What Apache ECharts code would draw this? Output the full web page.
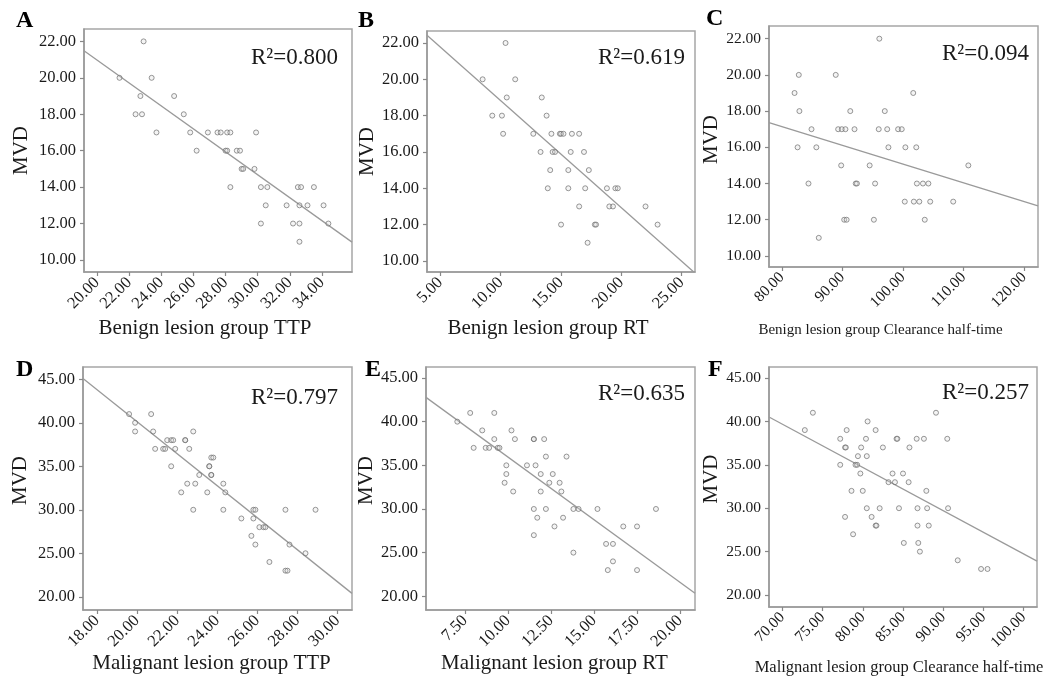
<!DOCTYPE html>
<html><head><meta charset="utf-8">
<script src="https://cdn.jsdelivr.net/npm/echarts@6/dist/echarts.min.js"></script>
<style>html,body{margin:0;padding:0;background:#fff}#c{width:1050px;height:679px}</style>
</head><body><div id="c"></div>
<script>
// ---------- data ----------
// Panel A: Benign TTP vs MVD
const aX = [22.9,21.4,23.4,22.7,24.8,22.4,22.8,25.4,23.7,25.8,26.9,27.5,27.7,28.1,28.3,29.9,26.2,28.0,28.1,28.7,28.9,29.0,29.1,29.8,28.3,30.2,30.6,32.5,32.7,33.5,30.5,31.8,32.6,33.1,34.1,30.2,32.2,32.6,34.4,32.6];
const aY = [22,20,20,19,19,18,18,18,17,17,17,17,17,17,17,17,16,16,16,16,16,15,15,15,14,14,14,14,14,14,13,13,13,13,13,12,12,12,12,11];
const aFitX = [19.19, 35.87];
const aFitY = [21.49, 10.98];
// Panel B: Benign RT vs MVD
const bX = [10.4,8.5,11.2,10.5,13.4,9.3,10.1,13.8,10.2,12.7,14.2,14.9,15.0,15.2,15.9,16.5,13.3,14.3,14.5,15.8,16.9,14.1,15.6,17.3,13.9,15.6,17.0,18.8,19.5,19.7,16.5,19.0,19.3,22.0,15.0,17.8,17.9,23.0,17.2];
const bY = [22,20,20,19,19,18,18,18,17,17,17,17,17,17,17,17,16,16,16,16,16,15,15,15,14,14,14,14,14,14,13,13,13,13,12,12,12,12,11];
const bFitX = [3.89, 26.0];
const bFitY = [22.42, 9.39];
// Panel C: Benign clearance half-time vs MVD
const cX = [96.1,82.8,88.9,82.1,101.7,82.9,91.3,97.0,84.9,89.3,89.9,90.5,92.0,96.0,97.4,99.2,99.8,82.6,85.7,97.6,100.4,102.2,89.8,94.5,110.8,84.4,92.2,92.4,95.4,102.3,103.3,104.2,100.3,101.8,102.7,104.5,108.3,90.3,90.7,95.2,103.6,86.1];
const cY = [22,20,20,19,19,18,18,18,17,17,17,17,17,17,17,17,17,16,16,16,16,16,15,15,15,14,14,14,14,14,14,14,13,13,13,13,13,12,12,12,12,11];
const cFitX = [77.88, 122.3];
const cFitY = [17.36, 12.76];
// Panel D: Malignant TTP vs MVD
const dX = [19.6,20.7,19.9,19.9,20.8,22.8,21.5,21.7,21.8,22.4,22.4,20.9,21.3,21.4,21.9,22.6,23.7,23.8,21.7,23.6,23.6,23.1,23.7,23.7,22.5,22.9,24.3,22.2,23.5,24.4,22.8,24.3,25.8,25.9,27.4,28.9,25.2,25.8,26.1,26.3,26.4,25.7,25.9,27.6,28.4,26.6,27.4,27.5];
const dY = [41,41,40,39,39,39,38,38,38,38,38,37,37,37,37,37,36,36,35,35,35,34,34,34,33,33,33,32,32,32,30,30,30,30,30,30,29,29,28,28,28,27,26,26,25,24,23,23];
const dFitX = [17.30, 30.72];
const dFitY = [45.08, 20.39];
// Panel E: Malignant RT vs MVD
const eX = [7.8,9.2,7.05,8.5,10.2,9.2,10.4,11.5,11.5,12.1,8.0,8.7,8.9,9.4,9.5,12.2,13.4,9.9,11.1,11.6,9.9,11.9,12.6,9.8,12.4,13.0,10.3,11.9,13.1,11.5,12.2,13.8,14.1,15.2,18.6,11.7,13.2,12.7,16.7,17.5,11.5,15.7,16.1,13.8,16.1,15.8,17.5];
const eY = [41,41,40,39,39,38,38,38,38,38,37,37,37,37,37,36,36,35,35,35,34,34,34,33,33,33,32,32,32,30,30,30,30,30,30,29,29,28,28,28,27,26,26,25,24,23,23];
const eFitX = [5.23, 20.87];
const eFitY = [42.78, 20.34];
// Panel F: Malignant clearance half-time vs MVD
const fX = [73.8,89.1,80.6,72.8,78.0,81.6,77.2,80.4,84.2,84.3,86.7,87.6,90.5,77.8,77.9,79.8,82.5,85.8,79.4,80.5,77.2,79.1,79.3,79.7,83.7,85.0,83.2,84.0,85.7,78.6,80.0,87.9,80.5,82.1,84.5,86.8,88.0,90.6,77.8,81.1,81.6,81.7,86.8,88.2,78.8,85.1,86.9,87.1,91.8,94.7,95.5];
const fY = [41,41,40,39,39,39,38,38,38,38,38,38,38,37,37,37,37,37,36,36,35,35,35,34,34,34,33,33,33,32,32,32,30,30,30,30,30,30,29,29,28,28,28,28,27,26,26,25,24,23,23];
const fFitX = [68.35, 101.65];
const fFitY = [40.51, 23.91];

// tick labels
const aXTicks = [20,22,24,26,28,30,32,34];
const bXTicks = [5,10,15,20,25];
const cXTicks = [80,90,100,110,120];
const dXTicks = [18,20,22,24,26,28,30];
const eXTicks = [7.5,10,12.5,15,17.5,20];
const fXTicks = [70,75,80,85,90,95,100];
const benignYTicks = [10,12,14,16,18,20,22];
const malignantYTicks = [20,25,30,35,40,45];

const letters = ['A','B','C','D','E','F'];
const r2Labels = ['R²=0.800','R²=0.619','R²=0.094','R²=0.797','R²=0.635','R²=0.257'];
const xNames = ['Benign lesion group TTP','Benign lesion group RT','Benign lesion group Clearance half-time',
  'Malignant lesion group TTP','Malignant lesion group RT','Malignant lesion group Clearance half-time'];
const yName = 'MVD';

// ---------- layout ----------
const FONT = 'Liberation Serif';
const TXT = '#1a1a1a';
const panels = [
  {x:aX,y:aY,fx:aFitX,fy:aFitY,xt:aXTicks,yt:benignYTicks,xr:[19.19,35.87],yr:[9.34,22.68],
   g:{left:84,top:29,width:268,height:243}, lf:16.5, nf:21, nGap:46, nPad:26, yGap:52, yPad:0, r2:{left:246,top:41}, lt:{left:11,top:4}},
  {x:bX,y:bY,fx:bFitX,fy:bFitY,xt:bXTicks,yt:benignYTicks,xr:[3.89,26.1],yr:[9.39,22.66],
   g:{left:427,top:31,width:268,height:241}, lf:16.5, nf:21, nGap:46, nPad:26, yGap:48, yPad:0, r2:{left:593,top:41}, lt:{left:353,top:4}},
  {x:cX,y:cY,fx:cFitX,fy:cFitY,xt:cXTicks,yt:benignYTicks,xr:[77.88,122.3],yr:[9.39,22.70],
   g:{left:769,top:26,width:269,height:241}, lf:15.5, nf:15, nGap:56, nPad:46, yGap:42, yPad:14, r2:{left:937,top:37}, lt:{left:701,top:2}},
  {x:dX,y:dY,fx:dFitX,fy:dFitY,xt:dXTicks,yt:malignantYTicks,xr:[17.30,30.72],yr:[18.48,46.41],
   g:{left:83,top:367,width:269,height:243}, lf:16.5, nf:21, nGap:42, nPad:12, yGap:52, yPad:16, r2:{left:246,top:381}, lt:{left:11,top:353}},
  {x:eX,y:eY,fx:eFitX,fy:eFitY,xt:eXTicks,yt:malignantYTicks,xr:[5.23,20.87],yr:[18.43,46.26],
   g:{left:426,top:367,width:269,height:243}, lf:16.5, nf:21, nGap:42, nPad:12, yGap:48, yPad:16, r2:{left:593,top:377}, lt:{left:360,top:353}},
  {x:fX,y:fY,fx:fFitX,fy:fFitY,xt:fXTicks,yt:malignantYTicks,xr:[68.35,101.65],yr:[18.62,46.27],
   g:{left:769,top:367,width:268,height:240}, lf:15.5, nf:16.5, nGap:52, nPad:8, yGap:42, yPad:16, r2:{left:937,top:376}, lt:{left:703,top:353}}
];

const grid = [], xAxis = [], yAxis = [], series = [], title = [];
const fmt = v => Number(v).toFixed(2);
panels.forEach((p, i) => {
  grid.push(Object.assign({show:true, borderColor:'#a6a6a6', borderWidth:1.5, backgroundColor:'#fff', containLabel:false}, p.g));
  xAxis.push({
    type:'value', gridIndex:i, min:p.xr[0], max:p.xr[1],
    name:xNames[i], nameLocation:'middle', nameGap:p.nGap,
    nameTextStyle:{fontFamily:FONT, fontSize:p.nf, color:TXT, padding:[0,p.nPad,0,0]},
    axisLine:{show:true, onZero:false, lineStyle:{color:'#999', width:1.5}},
    axisTick:{show:true, length:4, lineStyle:{color:'#888', width:1.2}, customValues:p.xt},
    axisLabel:{show:true, rotate:45, margin:8, fontFamily:FONT, fontSize:p.lf, color:TXT, customValues:p.xt, formatter:fmt},
    splitLine:{show:false}
  });
  yAxis.push({
    type:'value', gridIndex:i, min:p.yr[0], max:p.yr[1],
    name:yName, nameLocation:'middle', nameGap:p.yGap,
    nameTextStyle:{fontFamily:FONT, fontSize:21, color:TXT, padding:[0,0,0,p.yPad]},
    axisLine:{show:true, onZero:false, lineStyle:{color:'#999', width:1.5}},
    axisTick:{show:true, length:4, lineStyle:{color:'#888', width:1.2}, customValues:p.yt},
    axisLabel:{show:true, margin:8, fontFamily:FONT, fontSize:p.lf, color:TXT, customValues:p.yt, formatter:fmt},
    splitLine:{show:false}
  });
  series.push({
    type:'line', xAxisIndex:i, yAxisIndex:i, data:p.fx.map((v,k)=>[v,p.fy[k]]),
    symbol:'none', clip:true, silent:true, animation:false,
    lineStyle:{color:'#9a9a9a', width:1.3}, z:1
  });
  series.push({
    type:'scatter', xAxisIndex:i, yAxisIndex:i, data:p.x.map((v,k)=>[v,p.y[k]]),
    symbol:'circle', symbolSize:5, animation:false,
    itemStyle:{color:'rgba(215,215,215,0.35)', borderColor:'#707070', borderWidth:0.9}, z:2
  });
  title.push({text:r2Labels[i], left:p.r2.left, top:p.r2.top,
    textStyle:{fontFamily:FONT, fontSize:23, fontWeight:'normal', color:TXT}});
  title.push({text:letters[i], left:p.lt.left, top:p.lt.top,
    textStyle:{fontFamily:FONT, fontSize:24, fontWeight:'bold', color:'#000'}});
});

const chart = echarts.init(document.getElementById('c'), null, {renderer:'canvas'});
chart.setOption({animation:false, backgroundColor:'#fff', title, grid, xAxis, yAxis, series});
</script>
</body></html>
